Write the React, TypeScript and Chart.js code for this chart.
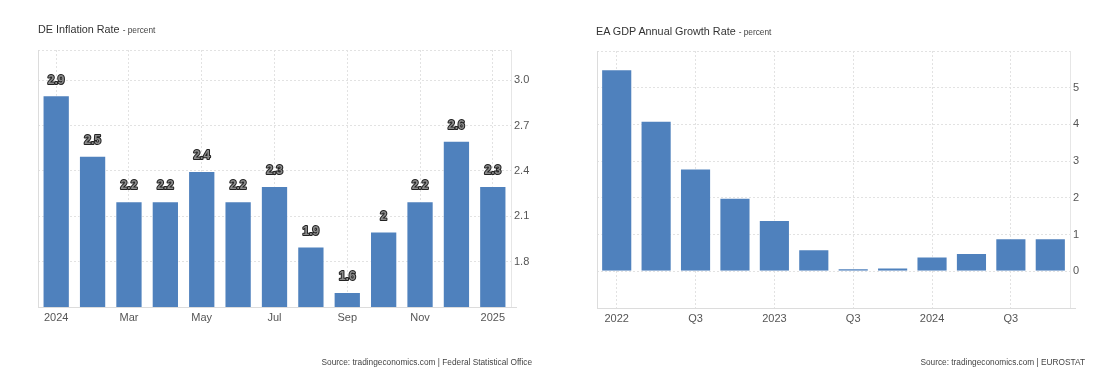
import React, { useEffect, useRef } from "react";
import { Chart, registerables } from "chart.js";

Chart.register(...registerables);

const deCategories = ["2024", "Feb", "Mar", "Apr", "May", "Jun", "Jul", "Aug", "Sep", "Oct", "Nov", "Dec", "2025"];
const deValues = [2.9, 2.5, 2.2, 2.2, 2.4, 2.2, 2.3, 1.9, 1.6, 2.0, 2.2, 2.6, 2.3];
const deTicks = [1.5, 1.8, 2.1, 2.4, 2.7, 3.0, 3.2];
const deShownTicks = [1.8, 2.1, 2.4, 2.7, 3.0];

const eaCategories = ["2022", "Q2", "Q3", "Q4", "2023", "Q2", "Q3", "Q4", "2024", "Q2", "Q3", "Q4"];
const eaValues = [5.5, 4.1, 2.8, 2.0, 1.4, 0.6, 0.08, 0.1, 0.4, 0.5, 0.9, 0.9];
const eaTicks = [-1, 0, 1, 2, 3, 4, 5, 6];
const eaShownTicks = [0, 1, 2, 3, 4, 5];

const BAR = "#4f81bd";
const FONT = "'Liberation Sans', Arial, sans-serif";

const edgePlugin = {
  id: "edge",
  afterDatasetsDraw(chart: any) {
    const { ctx, chartArea } = chart;
    ctx.save();
    ctx.setLineDash([]);
    ctx.strokeStyle = "#dcdcdc";
    ctx.lineWidth = 1;
    ctx.beginPath();
    ctx.moveTo(chartArea.left + 0.5, chartArea.top);
    ctx.lineTo(chartArea.left + 0.5, chartArea.bottom);
    ctx.moveTo(chartArea.left, chartArea.bottom + 0.5);
    ctx.lineTo(chartArea.right + 6, chartArea.bottom + 0.5);
    ctx.stroke();
    ctx.restore();
  },
};

const labelPlugin = {
  id: "valueLabels",
  afterDatasetsDraw(chart: any) {
    const { ctx } = chart;
    const meta = chart.getDatasetMeta(0);
    const data = chart.data.datasets[0].data as number[];
    ctx.save();
    ctx.font = `bold 12px ${FONT}`;
    ctx.textAlign = "center";
    ctx.textBaseline = "middle";
    ctx.lineJoin = "round";
    meta.data.forEach((bar: any, i: number) => {
      const txt = String(data[i]);
      const x = bar.x;
      const y = bar.y - 15;
      ctx.strokeStyle = "#222";
      ctx.lineWidth = 2;
      ctx.strokeText(txt, x, y);
      ctx.fillStyle = "#8a8a8a";
      ctx.fillText(txt, x, y);
    });
    ctx.restore();
  },
};

function makeConfig(
  labels: string[],
  values: number[],
  ticks: number[],
  shown: number[],
  min: number,
  max: number,
  barPct: number,
  padding: any,
  yWidth: number,
  xHeight: number,
  fmt: (v: number) => string,
  withLabels: boolean
): any {
  return {
    type: "bar",
    data: {
      labels,
      datasets: [
        {
          data: values,
          backgroundColor: BAR,
          borderColor: "rgba(255,255,255,0.55)",
          borderWidth: 1,
          categoryPercentage: 1,
          barPercentage: barPct,
        },
      ],
    },
    options: {
      animation: false,
      responsive: false,
      maintainAspectRatio: false,
      layout: { padding },
      plugins: {
        legend: { display: false },
        tooltip: { enabled: false },
        title: { display: false },
      },
      scales: {
        x: {
          offset: true,
          grid: {
            offset: false,
            drawTicks: false,
            color: (c: any) => (c.index % 2 === 0 ? "#e2e2e2" : "rgba(0,0,0,0)"),
          },
          border: { display: false, dash: [2, 2] },
          ticks: {
            autoSkip: false,
            maxRotation: 0,
            padding: 4,
            color: "#555",
            font: { family: FONT, size: 11 },
            callback: (_v: any, i: number) => (i % 2 === 0 ? labels[i] : ""),
          },
          afterFit: (s: any) => {
            s.height = xHeight;
          },
        },
        y: {
          position: "right",
          min,
          max,
          afterBuildTicks: (s: any) => {
            s.ticks = ticks.map((v) => ({ value: v }));
          },
          grid: {
            drawTicks: false,
            color: "#e2e2e2",
          },
          border: { display: true, color: "#e6e6e6", dash: [2, 2] },
          ticks: {
            padding: 3,
            color: "#555",
            font: { family: FONT, size: 11 },
            callback: (v: any) => (shown.includes(v) ? fmt(v) : ""),
          },
          afterFit: (s: any) => {
            s.width = yWidth;
          },
        },
      },
    },
    plugins: withLabels ? [edgePlugin, labelPlugin] : [edgePlugin],
  };
}

function ChartCanvas({ cfg, width, height, style }: any) {
  const ref = useRef<HTMLCanvasElement | null>(null);
  useEffect(() => {
    if (!ref.current) return;
    const c = new Chart(ref.current, cfg);
    return () => c.destroy();
  }, []);
  return <canvas ref={ref} width={width} height={height} style={{ position: "absolute", width, height, ...style }} />;
}

export default function App() {
  useEffect(() => {
    document.body.style.margin = "0";
  }, []);

  const deCfg = makeConfig(
    deCategories,
    deValues,
    deTicks,
    deShownTicks,
    1.5,
    3.2,
    0.75,
    { left: 38, top: 50, right: 0, bottom: 0 },
    39,
    68,
    (v) => v.toFixed(1),
    true
  );

  const eaCfg = makeConfig(
    eaCategories,
    eaValues,
    eaTicks,
    eaShownTicks,
    -1,
    6,
    0.79,
    { left: 47, top: 51, right: 0, bottom: 0 },
    31,
    67,
    (v) => String(v),
    false
  );

  const titleStyle: any = {
    position: "absolute",
    fontFamily: FONT,
    fontSize: 10.8,
    color: "#333",
    whiteSpace: "nowrap",
    lineHeight: "14px",
  };
  const sourceStyle: any = {
    position: "absolute",
    fontFamily: FONT,
    fontSize: 8.3,
    color: "#444",
    whiteSpace: "nowrap",
    lineHeight: "12px",
    textAlign: "right",
  };

  return (
    <div style={{ position: "absolute", left: 0, top: 0, width: 1101, height: 375, background: "#fff", overflow: "hidden" }}>
      <ChartCanvas cfg={deCfg} width={550} height={375} style={{ left: 0, top: 0 }} />
      <ChartCanvas cfg={eaCfg} width={551} height={375} style={{ left: 550, top: 0 }} />
      <div style={{ ...titleStyle, left: 38, top: 22 }}>
        DE Inflation Rate <span style={{ fontSize: 8.3, color: "#444" }}>- percent</span>
      </div>
      <div style={{ ...titleStyle, left: 596, top: 24 }}>
        EA GDP Annual Growth Rate <span style={{ fontSize: 8.3, color: "#444" }}>- percent</span>
      </div>
      <div style={{ ...sourceStyle, right: 1101 - 532, top: 356 }}>
        Source: tradingeconomics.com | Federal Statistical Office
      </div>
      <div style={{ ...sourceStyle, right: 1101 - 1085, top: 356 }}>
        Source: tradingeconomics.com | EUROSTAT
      </div>
    </div>
  );
}
